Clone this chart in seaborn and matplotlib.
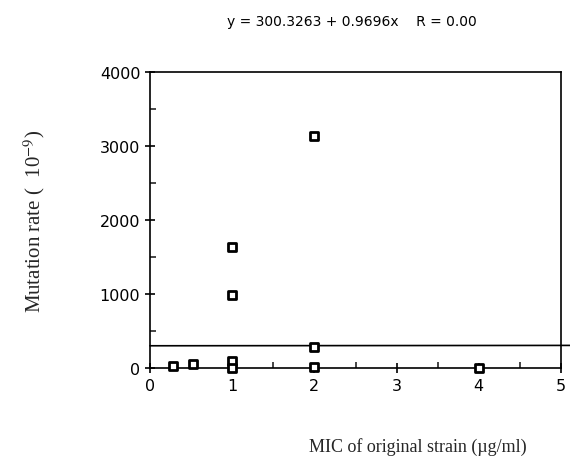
import numpy as np
import pandas as pd
import matplotlib
matplotlib.use("Agg")
import matplotlib.pyplot as plt
import seaborn as sns
from matplotlib.ticker import MultipleLocator

# data
mic = [0.28, 0.52, 1, 1, 1, 1, 2, 2, 2, 4]
rate = [30, 55, 90, 0, 980, 1640, 3130, 280, 20, 5]

# fitted line from the header
intercept = 300.3263
slope = 0.9696
r_value = 0.00

df = pd.DataFrame({"mic": mic, "rate": rate})

sns.set_style("ticks")
plt.rcParams['font.family'] = ['DejaVu Sans']
plt.rcParams['mathtext.fontset'] = 'stix'

fig = plt.figure(figsize=(5.7, 4.64), dpi=100)
ax = fig.add_axes([150 / 570, 1 - 369 / 464, 411 / 570, 296 / 464])

sns.scatterplot(data=df, x="mic", y="rate", marker="s", s=30,
                facecolor="white", edgecolor="black", linewidth=2,
                ax=ax, zorder=3, clip_on=False)

ax.set_xlim(0, 5)
ax.set_ylim(0, 4000)

# regression line runs out past the right spine to the page edge
x_end = ax.transData.inverted().transform(fig.transFigure.transform((1, 0)))[0]
xs = np.array([ax.get_xlim()[0], x_end])
ax.plot(xs, intercept + slope * xs, color="black", lw=1.2, clip_on=False, zorder=2)

ax.xaxis.set_major_locator(MultipleLocator(1))
ax.xaxis.set_minor_locator(MultipleLocator(0.5))
ax.yaxis.set_major_locator(MultipleLocator(1000))
ax.yaxis.set_minor_locator(MultipleLocator(500))
ax.tick_params(which="major", direction="inout", length=7, width=1.2,
               labelsize=11.5, colors="black")
ax.tick_params(which="minor", direction="in", length=4, width=1.2)

for sp in ax.spines.values():
    sp.set_linewidth(1.2)
    sp.set_color("black")

ax.set_title(f"y = {intercept:.4f} + {slope:.4f}x    R = {r_value:.2f}",
             fontsize=10, pad=34, x=0.49, color="black")

ax.set_ylabel("Mutation rate (  10$^{-9}$)", family="Liberation Serif",
              fontsize=15, labelpad=38)
ax.set_xlabel("MIC of original strain (µg/ml)", family="Liberation Serif",
              fontsize=13)
ax.xaxis.set_label_coords(0.652, -0.235)

fig.savefig("out.png", dpi=100)
